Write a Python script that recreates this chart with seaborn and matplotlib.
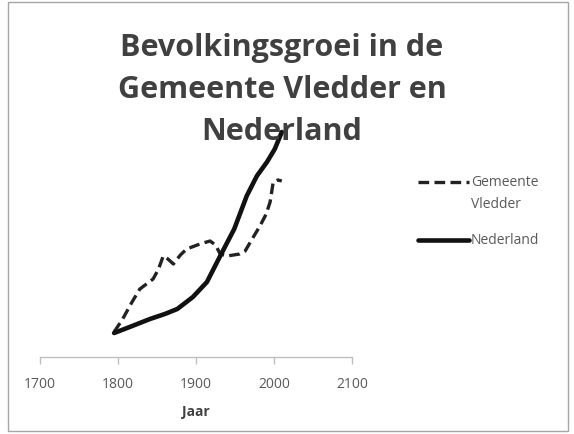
import matplotlib
matplotlib.use("Agg")
import matplotlib.pyplot as plt
import seaborn as sns
import pandas as pd
from matplotlib.lines import Line2D
from matplotlib.patches import Rectangle

sns.set_style("white")
plt.rcParams['font.family'] = ['Open Sans', 'DejaVu Sans']

# Data (arbitrary relative units; y axis hidden in the original)
vledder_years = [1795, 1806, 1818, 1828, 1845, 1852, 1858, 1864, 1871, 1880, 1888, 1905, 1918, 1925, 1931, 1940, 1948, 1956, 1963, 1972, 1982, 1990, 1995, 1999, 2005, 2010]
vledder_vals = [25, 38, 55, 68, 78, 88, 101, 98, 93, 102, 108, 113, 116, 112, 103, 101, 102, 103, 106, 118, 131, 143, 155, 175, 177, 176]
nl_years = [1795, 1815, 1841, 1860, 1876, 1896, 1914, 1931, 1949, 1965, 1978, 1991, 2001, 2010]
nl_vals = [24, 30, 38, 43, 48, 60, 75, 101, 128, 161, 181, 195, 208, 225]
xticks = [1700, 1800, 1900, 2000, 2100]
series_names = ["Gemeente\nVledder", "Nederland"]

df_v = pd.DataFrame({"Jaar": vledder_years, "waarde": vledder_vals})
df_n = pd.DataFrame({"Jaar": nl_years, "waarde": nl_vals})

W, H = 574, 435
fig = plt.figure(figsize=(W/100, H/100), dpi=100)
ax = fig.add_axes([40/W, 77/H, 312/W, 258/H])

dash = (0, (3.2, 1.6))
styles = [dict(color="#222222", linewidth=2.4, linestyle=dash),
          dict(color="#111111", linewidth=3.3, linestyle="-")]
sns.lineplot(data=df_v, x="Jaar", y="waarde", ax=ax, sort=False, **styles[0])
sns.lineplot(data=df_n, x="Jaar", y="waarde", ax=ax, sort=False, **styles[1])
for ln in ax.get_lines():
    ln.set_solid_joinstyle("round")
    ln.set_dash_joinstyle("round")

ax.set_xlim(1700, 2100)
ax.set_ylim(0, 258)
ax.set_xticks(xticks)
ax.set_xticklabels([str(t) for t in xticks], color="#595959", fontsize=10)
ax.set_yticks([])
ax.set_ylabel("")
ax.set_xlabel("Jaar", fontsize=10, fontweight="bold", color="#404040", labelpad=9)
for s in ["top", "right", "left"]:
    ax.spines[s].set_visible(False)
ax.spines["bottom"].set_color("#bfbfbf")
ax.spines["bottom"].set_linewidth(1.0)
ax.tick_params(axis="x", bottom=True, direction="out", length=5, width=1,
               color="#bfbfbf", pad=9)
ax.patch.set_alpha(0)

fig.text(282/W, 1 - 90/H, "Bevolkingsgroei in de\nGemeente Vledder en\nNederland",
         ha="center", va="center", fontsize=22, fontweight="bold", color="#404040",
         linespacing=1.52)

# Legend (Excel-style: handle aligned with first text line)
legend_y = [183, 241]
for name, st, yy in zip(series_names, styles, legend_y):
    fig.add_artist(Line2D([418/W, 469/W], [1 - yy/H, 1 - yy/H], transform=fig.transFigure, **st))
    fig.text(471/W, 1 - (yy - 8)/H, name, ha="left", va="top", fontsize=10,
             color="#595959", linespacing=1.65)

fig.patches.append(Rectangle((8/W, 3/H), 560/W, 429/H, transform=fig.transFigure,
                             fill=False, edgecolor="#a6a6a6", linewidth=1.0))

fig.savefig("out.png", dpi=100)
